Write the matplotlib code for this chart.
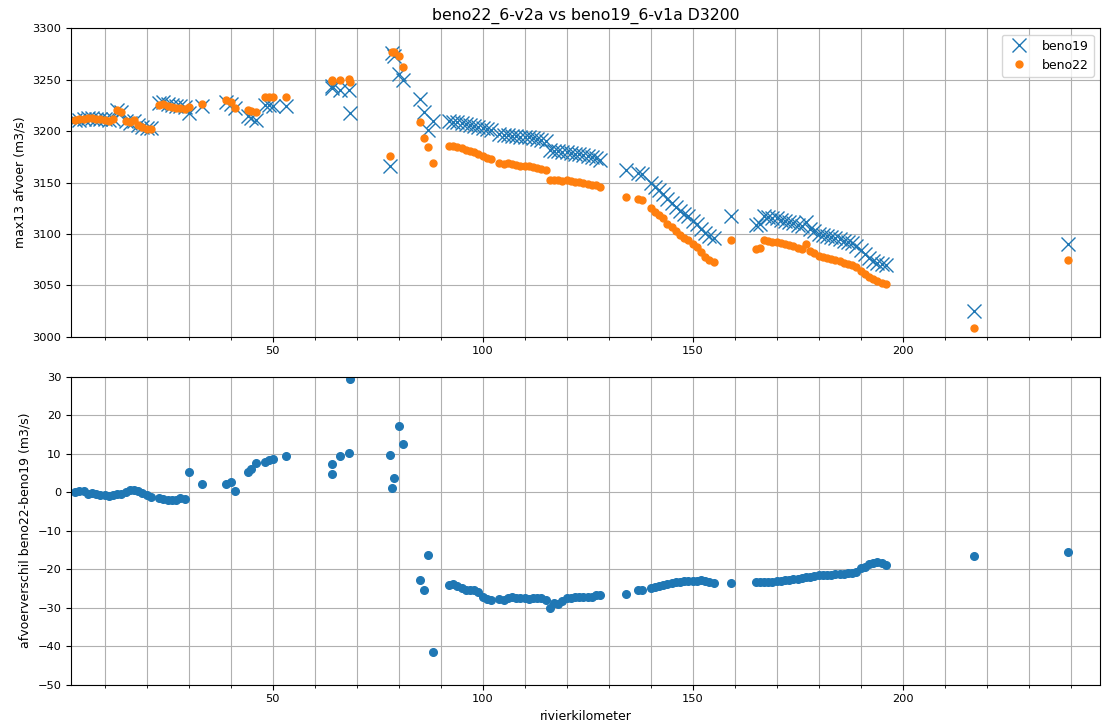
import matplotlib
matplotlib.use("Agg")
import matplotlib.pyplot as plt
from matplotlib.ticker import MultipleLocator

# rivierkilometer
km = [3, 4, 5, 6, 7, 8, 9, 10, 11, 12, 13, 14, 15, 16, 17, 18, 19, 20, 21,
      23, 24, 25, 26, 27, 28, 29.1,
      30.1, 33.1,
      39, 40, 41, 44.1, 44.9, 46, 48.2, 49.2, 50.2, 53.1,
      64.1, 64.1, 66.1, 68.2, 68.4,
      77.9, 78.5, 78.9, 80.1, 81.1,
      85.1, 86.0, 87.0, 88.3,
      92, 93, 94, 95, 96, 97, 98, 99, 100, 101, 102,
      104, 105, 106, 107, 108, 109, 110, 111, 112, 113, 114, 115,
      116, 117, 118, 119, 120, 121, 122, 123, 124, 125, 126, 127, 128,
      134.2, 137, 138,
      140, 141, 142, 143, 144, 145, 146, 147, 148, 149, 150, 151, 152, 153, 154, 155,
      159.2,
      165, 166, 167, 168, 169, 170, 171, 172, 173, 174, 175, 176, 177, 178, 179, 180,
      181, 182, 183, 184, 185, 186, 187, 188, 189, 190, 191, 192, 193, 194, 195, 196,
      217.1, 239.3]

beno19 = [3211, 3211, 3212, 3213, 3213, 3212, 3212, 3212, 3211, 3212, 3221, 3219, 3210, 3208, 3210, 3206, 3204, 3203, 3203,
          3227, 3228, 3226, 3225, 3224, 3224, 3223,
          3218, 3224.5,
          3228, 3226, 3222, 3215, 3213, 3211, 3225, 3225, 3224, 3224,
          3244, 3242, 3240, 3240, 3218,
          3166, 3276, 3273, 3256, 3249.7,
          3231.5, 3219, 3201, 3210,
          3210, 3209, 3209, 3208, 3207, 3206, 3205, 3204, 3203, 3202, 3201,
          3197, 3196, 3196, 3195, 3195, 3194, 3194, 3194, 3193, 3192, 3191, 3190,
          3182, 3181, 3181, 3180, 3180, 3179, 3178, 3178, 3177, 3176, 3175, 3174, 3172,
          3162, 3159, 3158,
          3150, 3146, 3143, 3139, 3134, 3130, 3126, 3122, 3119, 3117, 3113, 3110, 3105, 3101, 3098, 3096,
          3117.5,
          3109, 3110, 3117, 3116, 3115, 3115, 3114, 3113, 3112, 3111, 3109, 3108, 3112, 3105, 3103, 3100,
          3099, 3098, 3097, 3096, 3095, 3093, 3092, 3091, 3088, 3084, 3080, 3077, 3074, 3072, 3071, 3070,
          3025, 3090]

beno22 = [3211.0, 3211.3, 3212.2, 3212.6, 3212.7, 3211.5, 3211.3, 3211.2, 3210.0, 3211.3, 3220.5, 3218.6, 3210.0,
          3208.5, 3210.7, 3206.2, 3203.7, 3202.2, 3201.7,
          3225.5, 3226.3, 3224.1, 3223.0, 3222.1, 3222.4, 3221.2,
          3223.3, 3226.7,
          3230.2, 3228.6, 3222.2, 3220.2, 3219.1, 3218.6, 3232.9, 3233.3, 3232.7, 3233.3,
          3248.8, 3249.3, 3249.3, 3250.3, 3247.3,
          3175.6, 3277.0, 3276.6, 3273.1, 3262.1,
          3208.6, 3193.5, 3184.8, 3168.5,
          3186.0, 3185.2, 3184.7, 3183.2, 3181.5, 3180.7, 3179.5, 3178.0, 3175.8, 3174.3, 3173.0,
          3169.3, 3168.0, 3168.5, 3167.7, 3167.5, 3166.5, 3166.4, 3166.2, 3165.5, 3164.6, 3163.4, 3162.0,
          3152.0, 3152.3, 3152.0, 3151.8, 3152.4, 3151.6, 3150.7, 3150.8, 3149.8, 3148.8, 3147.7, 3147.4, 3145.4,
          3135.6, 3133.7, 3132.7,
          3125.2, 3121.4, 3118.7, 3115.0, 3110.1, 3106.5, 3102.6, 3098.8, 3095.9, 3093.9, 3090.0, 3087.0,
          3082.1, 3077.9, 3074.7, 3072.4,
          3094.0,
          3085.6, 3086.6, 3093.7, 3092.7, 3091.8, 3092.0, 3091.0, 3090.2, 3089.3, 3088.5, 3086.5, 3085.7,
          3090.0, 3083.0, 3081.2, 3078.4, 3077.5, 3076.5, 3075.6, 3074.7, 3073.7, 3071.8, 3070.9, 3069.9,
          3067.4, 3064.2, 3060.7, 3058.3, 3055.7, 3053.8, 3052.7, 3051.2,
          3008.4, 3074.4]

# beno22 - beno19
verschil = [0.0, 0.3, 0.2, -0.4, -0.3, -0.5, -0.7, -0.8, -1.0, -0.7, -0.5, -0.4, 0.0, 0.5, 0.7, 0.2, -0.3, -0.8, -1.3,
            -1.5, -1.7, -1.9, -2.0, -1.9, -1.6, -1.8,
            5.3, 2.2,
            2.2, 2.6, 0.2, 5.2, 6.1, 7.6, 7.9, 8.3, 8.7, 9.3,
            4.8, 7.3, 9.3, 10.3, 29.3,
            9.6, 1.0, 3.6, 17.1, 12.4,
            -22.9, -25.5, -16.2, -41.5,
            -24.0, -23.8, -24.3, -24.8, -25.5, -25.3, -25.5, -26.0, -27.2, -27.7, -28.0,
            -27.7, -28.0, -27.5, -27.3, -27.5, -27.5, -27.6, -27.8, -27.5, -27.4, -27.6, -28.0,
            -30.0, -28.7, -29.0, -28.2, -27.6, -27.4, -27.3, -27.2, -27.2, -27.2, -27.3, -26.6, -26.6,
            -26.4, -25.3, -25.3,
            -24.8, -24.6, -24.3, -24.0, -23.9, -23.5, -23.4, -23.2, -23.1, -23.1, -23.0, -23.0, -22.9, -23.1, -23.3, -23.6,
            -23.5,
            -23.4, -23.4, -23.3, -23.3, -23.2, -23.0, -23.0, -22.8, -22.7, -22.5, -22.5, -22.3, -22.0, -22.0, -21.8, -21.6,
            -21.5, -21.5, -21.4, -21.3, -21.3, -21.2, -21.1, -21.1, -20.6, -19.8, -19.3, -18.7, -18.3, -18.2, -18.3, -18.8,
            -16.6, -15.6]

if __name__ == "__main__":
    fig = plt.figure(figsize=(11.06, 7.26), dpi=100)
    ax = fig.add_axes([0.0642, 0.5362, 0.9304, 0.4248])
    ax2 = fig.add_axes([0.0642, 0.0569, 0.9304, 0.4242])

    ax.plot(km, beno19, "x", color="C0", markersize=10.5, markeredgewidth=1.0, label="beno19")
    ax.plot(km, beno22, "o", color="C1", markersize=5, label="beno22")
    ax.set_ylim(3000, 3300)
    ax.yaxis.set_major_locator(MultipleLocator(50))
    ax.set_ylabel("max13 afvoer (m3/s)", fontsize=9)
    ax.set_title("beno22_6-v2a vs beno19_6-v1a D3200", fontsize=11.3)
    ax.legend(loc="upper right", fontsize=9)

    ax2.plot(km, verschil, "o", color="C0", markersize=5.5)
    ax2.set_ylim(-50, 30)
    ax2.yaxis.set_major_locator(MultipleLocator(10))
    ax2.set_ylabel("afvoerverschil beno22-beno19 (m3/s)", fontsize=9)
    ax2.set_xlabel("rivierkilometer", fontsize=9)

    for a in (ax, ax2):
        a.set_xlim(2, 247)
        a.xaxis.set_major_locator(MultipleLocator(50))
        a.xaxis.set_minor_locator(MultipleLocator(10))
        a.tick_params(labelsize=8.2)
        a.grid(which="both")

    fig.savefig("out.png", dpi=100)
